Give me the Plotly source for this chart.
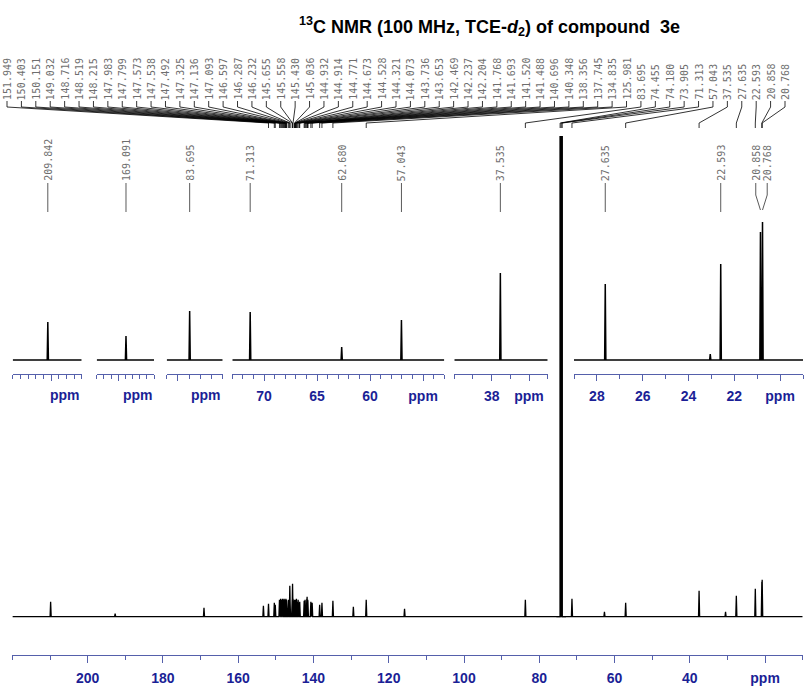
import plotly.graph_objects as go

W, H = 804, 687

# ---------------- data ----------------
TITLE = "<sup>13</sup>C NMR (100 MHz, TCE-<i>d</i><sub>2</sub>) of compound  3e"

# full spectrum: peak positions (ppm) and heights (arbitrary units)
main_ppm = [209.842, 192.7, 169.091, 153.3, 151.949, 150.403, 150.151, 149.032, 148.716,
            148.519, 148.215, 147.983, 147.799, 147.573, 147.538, 147.492, 147.325, 147.136,
            147.093, 146.597, 146.287, 146.232, 145.655, 145.558, 145.430, 145.036, 144.932,
            144.914, 144.771, 144.673, 144.528, 144.321, 144.073, 143.736, 143.653, 142.469,
            142.237, 142.204, 141.768, 141.693, 141.520, 141.488, 140.696, 140.348, 138.356,
            137.745, 134.835, 129.4, 125.981, 115.8, 83.695, 71.313, 62.680, 57.043, 37.535,
            30.5, 27.635, 22.593, 20.858, 20.768]
main_int = [15, 3, 9, 11, 13, 14, 12, 17, 18,
            17, 18, 17, 18, 17, 16, 17, 18, 17,
            16, 17, 31, 18, 17, 33, 18, 17, 16,
            15, 17, 16, 18, 15, 17, 14, 15, 16,
            17, 16, 18, 20, 17, 16, 15, 14, 12,
            14, 16, 10, 17, 8, 17, 18, 5, 14, 26,
            5, 21, 28, 35, 37]
solvent_ppm = [74.455, 74.180, 73.905]
solvent_int = [20000, 20000, 20000]

# peak labels, top row
top_labels = ["151.949", "150.403", "150.151", "149.032", "148.716", "148.519", "148.215",
              "147.983", "147.799", "147.573", "147.538", "147.492", "147.325", "147.136",
              "147.093", "146.597", "146.287", "146.232", "145.655", "145.558", "145.430",
              "145.036", "144.932", "144.914", "144.771", "144.673", "144.528", "144.321",
              "144.073", "143.736", "143.653", "142.469", "142.237", "142.204", "141.768",
              "141.693", "141.520", "141.488", "140.696", "140.348", "138.356", "137.745",
              "134.835", "125.981", "83.695", "74.455", "74.180", "73.905", "71.313",
              "57.043", "37.535", "27.635", "22.593", "20.858", "20.768"]

# expanded insets
inset_ranges = [(210.3, 209.4), (169.5, 168.7), (83.9, 83.4), (73, 53), (40, 35), (29, 19)]
inset_peaks = [[209.842], [169.091], [83.695], [71.313, 62.680, 57.043], [37.535],
               [27.635, 23.05, 22.593, 20.858, 20.768]]
inset_heights = [[38], [24], [49], [48, 13, 40], [87], [76, 6, 96, 128, 138]]
inset_major_vals = [[209.8], [169.2], [83.8], [70, 65, 60, 55], [38, 36], [28, 26, 24, 22, 20]]
inset_major_text = [None, None, None, ["70", "65", "60", "ppm"], ["38", "ppm"],
                    ["28", "26", "24", "22", "ppm"]]
inset_minor_step = [0.1, 0.1, 0.1, 1, 1, 1]
inset_unit_at = [209.62, 168.93, 83.55, None, None, None]

# labels of the insets (second row): text and inset index
inset_labels = ["209.842", "169.091", "83.695", "71.313", "62.680", "57.043", "37.535",
                "27.635", "22.593", "20.858", "20.768"]
inset_label_of = [0, 1, 2, 3, 3, 3, 4, 5, 5, 5, 5]

# main axis
main_range = (220, 10)
main_major_vals = [200, 180, 160, 140, 120, 100, 80, 60, 40, 20]
main_major_text = ["200", "180", "160", "140", "120", "100", "80", "60", "40", "ppm"]

# ---------------- layout constants (pixels) ----------------
MAIN_PX = (12.4, 802.7)
MAIN_AXIS_Y = 655
MAIN_BASE_Y = 616.7
MAIN_TOP_Y = 136
INSET_PX = [(12.7, 81.7), (96.7, 154), (166.7, 222.7), (232.3, 444.3), (454.3, 547.7), (574, 803)]
INSET_AXIS_Y = 374
INSET_BASE_Y = 360
INSET_TOP_Y = 200

AXIS_COLOR = "#5560ab"
LABEL_COLOR = "#1b1f96"
NUM_COLOR = "#6e6e6e"
TICKFONT = dict(family="Liberation Sans, Arial", size=14, color=LABEL_COLOR, weight="bold")


def yp(py):
    return (H - py) / H


def xp(px):
    return px / W


def build(peaks, heights, lo, hi, hws):
    pts = sorted(zip(peaks, heights, hws), key=lambda t: -t[0])
    xs, ys = [hi], [0]
    for p, h, w in pts:
        xs += [p + w, p, p - w]
        ys += [0, h, 0]
    xs.append(lo)
    ys.append(0)
    return xs, ys


fig = go.Figure()

# ---- main spectrum ----
scale = (MAIN_PX[1] - MAIN_PX[0]) / (main_range[0] - main_range[1])
hw_main = 0.55 / scale
hw_solv = 0.15 / scale
mx, my = build(main_ppm, main_int, main_range[1], main_range[0], [hw_main] * len(main_ppm))
fig.add_trace(go.Scatter(x=mx, y=my, mode="lines", line=dict(color="black", width=1.3),
                         xaxis="x", yaxis="y", hoverinfo="skip"))
sx, sy = build(solvent_ppm, solvent_int, min(solvent_ppm) - 1, max(solvent_ppm) + 1,
               [hw_solv] * len(solvent_ppm))
fig.add_trace(go.Scatter(x=sx, y=sy, mode="lines", line=dict(color="black", width=1.2),
                         xaxis="x", yaxis="y", hoverinfo="skip"))

layout = dict(
    width=W, height=H, autosize=False,
    margin=dict(l=0, r=0, t=0, b=0, pad=0),
    paper_bgcolor="white", plot_bgcolor="rgba(0,0,0,0)",
    showlegend=False,
)

ybot = -(MAIN_AXIS_Y - MAIN_BASE_Y)
ytop = MAIN_BASE_Y - MAIN_TOP_Y
layout["yaxis"] = dict(domain=[yp(MAIN_AXIS_Y), yp(MAIN_TOP_Y)], range=[ybot, ytop],
                       visible=False, anchor="x", fixedrange=True)
layout["xaxis"] = dict(
    domain=[xp(MAIN_PX[0]), xp(MAIN_PX[1])], range=list(main_range), anchor="y",
    showline=True, linecolor=AXIS_COLOR, linewidth=1, showgrid=False, zeroline=False,
    ticks="outside", ticklen=7, tickcolor=AXIS_COLOR, tickwidth=1,
    tickmode="array", tickvals=main_major_vals, ticktext=main_major_text,
    tickfont=TICKFONT, ticklabelstandoff=3,
    minor=dict(ticks="outside", dtick=10, tick0=0, ticklen=4, tickcolor=AXIS_COLOR, tickwidth=1),
    fixedrange=True,
)

# ---- insets ----
layout["yaxis2"] = dict(domain=[yp(INSET_AXIS_Y), yp(INSET_TOP_Y)],
                        range=[-(INSET_AXIS_Y - INSET_BASE_Y), INSET_BASE_Y - INSET_TOP_Y],
                        visible=False, anchor="x2", fixedrange=True)
annotations = []
shapes = []
for i, (rng, pk, hts) in enumerate(zip(inset_ranges, inset_peaks, inset_heights)):
    ax = i + 2
    px0, px1 = INSET_PX[i]
    s = (px1 - px0) / (rng[0] - rng[1])
    hw = 0.6 / s
    ix, iy = build(pk, hts, rng[1], rng[0], [hw] * len(pk))
    fig.add_trace(go.Scatter(x=ix, y=iy, mode="lines", line=dict(color="black", width=1.5),
                             xaxis=f"x{ax}", yaxis="y2", hoverinfo="skip"))
    pad = 1e-6 * (rng[0] - rng[1])
    axd = dict(
        domain=[xp(px0), xp(px1)], range=[rng[0] + pad, rng[1] - pad], anchor="y2",
        showline=True, linecolor=AXIS_COLOR, linewidth=1, showgrid=False, zeroline=False,
        ticks="outside", ticklen=6, tickcolor=AXIS_COLOR, tickwidth=1,
        tickmode="array", tickvals=inset_major_vals[i],
        tickfont=TICKFONT, ticklabelstandoff=3,
        minor=dict(ticks="outside", dtick=inset_minor_step[i], tick0=0, ticklen=3.5,
                   tickcolor=AXIS_COLOR, tickwidth=1),
        fixedrange=True,
    )
    if inset_major_text[i] is None:
        axd["showticklabels"] = False
    else:
        axd["ticktext"] = inset_major_text[i]
    layout[f"xaxis{ax}"] = axd
    if inset_unit_at[i] is not None:
        annotations.append(dict(text="ppm", x=inset_unit_at[i], xref=f"x{ax}",
                                y=yp(395), yref="paper", showarrow=False,
                                xanchor="center", yanchor="middle", font=TICKFONT))

# ---- overlay axes for the top peak-label fan (same ppm scale as main axis) ----
x8_left = main_range[0] + MAIN_PX[0] / scale
x8_right = main_range[1] - (W - MAIN_PX[1]) / scale
layout["xaxis8"] = dict(domain=[0, 1], range=[x8_left, x8_right], anchor="y8",
                        visible=False, fixedrange=True)
layout["yaxis8"] = dict(domain=[0, 1], range=[H, 0], anchor="x8", visible=False,
                        fixedrange=True)


def ppm_at(px):
    return x8_left - px * (x8_left - x8_right) / W


n = len(top_labels)
LAB_L, LAB_R = 7, 785
fx, fy = [], []
for k, lab in enumerate(top_labels):
    lx = ppm_at(LAB_L + k * (LAB_R - LAB_L) / (n - 1))
    p = float(lab)
    fx += [lx, lx, p, p, None]
    fy += [101, 107, 123, 128, None]
    annotations.append(dict(text=lab, x=lx, xref="x8", y=101, yref="y8", textangle=-90,
                            showarrow=False, xanchor="center", yanchor="bottom",
                            borderpad=0,
                            font=dict(family="DejaVu Sans Mono", size=10, color=NUM_COLOR)))
fig.add_trace(go.Scatter(x=fx, y=fy, mode="lines", line=dict(color="black", width=0.8),
                         xaxis="x8", yaxis="y8", hoverinfo="skip", connectgaps=False))

# ---- second-row labels for the insets ----
groups = {}
for lab, idx in zip(inset_labels, inset_label_of):
    groups.setdefault((idx, round(float(lab))), []).append(lab)
for (idx, _), labs in groups.items():
    ax = idx + 2
    vals = [float(v) for v in labs]
    if len(labs) == 1:
        pos = [vals[0]]
    else:
        c = sum(vals) / len(vals)
        pos = [c + 0.25 - j * 0.5 / (len(vals) - 1) for j in range(len(vals))]
    for lab, v, lx in zip(labs, vals, pos):
        annotations.append(dict(text=lab, x=lx, xref=f"x{ax}", y=yp(182), yref="paper",
                                textangle=-90, showarrow=False, xanchor="center",
                                yanchor="bottom", borderpad=0,
                                font=dict(family="DejaVu Sans Mono", size=10, color=NUM_COLOR)))
        if len(labs) == 1:
            shapes.append(dict(type="line", xref=f"x{ax}", yref="paper", x0=v, x1=v,
                               y0=yp(183), y1=yp(212), line=dict(color="#5a5a5a", width=1)))
        else:
            path = f"M {lx},{yp(183)} L {lx},{yp(195)} L {v},{yp(210)}"
            shapes.append(dict(type="path", xref=f"x{ax}", yref="paper", path=path,
                               line=dict(color="#5a5a5a", width=1)))

# ---- title ----
annotations.append(dict(text=TITLE, x=xp(489), y=yp(27), xref="paper", yref="paper",
                        showarrow=False, xanchor="center", yanchor="middle",
                        font=dict(family="Liberation Sans, Arial", size=18, color="black",
                                  weight="bold")))

layout["annotations"] = annotations
layout["shapes"] = shapes
fig.update_layout(**layout)

fig.write_html("out.html", config={"displayModeBar": False, "staticPlot": True})
